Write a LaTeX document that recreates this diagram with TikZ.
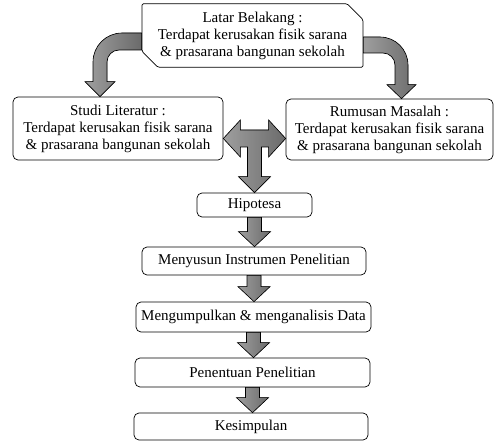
\documentclass[tikz,border=0pt]{standalone}
\usepackage{fontspec}
\setmainfont{Liberation Serif}
\usetikzlibrary{calc,shapes.misc}

\newcommand{\blockdown}[2]{%
  \filldraw[blockarrow] let \p1=(#1.south), \p2=(#2.north) in
    (\x1-7pt,\y1) -- (\x1+7pt,\y1) -- (\x1+7pt,\y2+15pt) -- (\x1+16pt,\y2+15pt)
    -- (\x1,\y2) -- (\x1-16pt,\y2+15pt) -- (\x1-7pt,\y2+15pt) -- cycle;}

\begin{document}
\begin{tikzpicture}[x=1pt,y=1pt,font=\fontsize{15}{17}\selectfont,
  kotak/.style={draw,rounded corners=5pt,line width=0.7pt,fill=white,align=center,inner sep=0pt},
  blockarrow/.style={draw,line width=0.6pt,left color=black!38,right color=black!58}]
  \useasboundingbox (0,0) rectangle (496,-441);

  \node[kotak,shape=chamfered rectangle,rounded corners=1.5pt,
        chamfered rectangle corners={north east,south west},
        chamfered rectangle xsep=8pt,chamfered rectangle ysep=8pt,
        minimum width=221pt,minimum height=59pt] (latar) at (252.5,-35.5)
        {Latar Belakang :\\Terdapat kerusakan fisik sarana\\\& prasarana bangunan sekolah};
  \node[kotak,minimum width=210pt,minimum height=63pt] (studi) at (118,-128.5)
        {Studi Literatur :\\Terdapat kerusakan fisik sarana\\\& prasarana bangunan sekolah};
  \node[kotak,minimum width=207pt,minimum height=61pt] (rumusan) at (389.5,-129.5)
        {Rumusan Masalah :\\Terdapat kerusakan fisik sarana\\\& prasarana bangunan sekolah};

  \node[kotak,minimum width=115pt,minimum height=24pt] (hip) at (254.5,-205) {Hipotesa};
  \node[kotak,minimum width=224pt,minimum height=28pt] (men) at (254,-261) {Menyusun Instrumen Penelitian};
  \node[kotak,minimum width=235pt,minimum height=30pt] (kum) at (253.5,-317) {Mengumpulkan \& menganalisis Data};
  \node[kotak,minimum width=235pt,minimum height=29pt] (pen) at (252.5,-372.5) {Penentuan Penelitian};
  \node[kotak,minimum width=234pt,minimum height=27pt] (kes) at (251,-426.5) {Kesimpulan};

  \filldraw[blockarrow] let \p1=(latar.west), \p2=([xshift=-18pt]studi.north) in
    (\x1,\y1+2.5pt) -- (\x2+22pt,\y1+2.5pt) arc[start angle=90,end angle=180,radius=29pt]
    -- (\x2-7pt,\y2+15pt) -- (\x2-15pt,\y2+15pt) -- (\x2,\y2) -- (\x2+15pt,\y2+15pt)
    -- (\x2+7pt,\y2+15pt) -- (\x2+7pt,\y1-26.5pt) arc[start angle=180,end angle=90,radius=12pt]
    -- (\x1,\y1-14.5pt) -- cycle;
  \filldraw[blockarrow] let \p1=(latar.east), \p2=([xshift=12pt]rumusan.north) in
    (\x1,\y1-1.5pt) -- (\x2-21.5pt,\y1-1.5pt) arc[start angle=90,end angle=0,radius=28pt]
    -- (\x2+6.5pt,\y2+14pt) -- (\x2+14.5pt,\y2+14pt) -- (\x2,\y2) -- (\x2-14.5pt,\y2+14pt)
    -- (\x2-6.5pt,\y2+14pt) -- (\x2-6.5pt,\y1-29.5pt) arc[start angle=0,end angle=90,radius=12pt]
    -- (\x1,\y1-17.5pt) -- cycle;

  \filldraw[blockarrow] let \p1=(studi.east), \p2=(rumusan.west), \p3=(hip.north),
      \p4=([yshift=-10pt]studi.east) in
    (\x1,\y4) -- (\x1+17pt,\y4+18.5pt) -- (\x1+17pt,\y4+8.5pt) -- (\x2-17pt,\y4+8.5pt)
    -- (\x2-17pt,\y4+18.5pt) -- (\x2,\y4) -- (\x2-17pt,\y4-18.5pt) -- (\x2-17pt,\y4-8.5pt)
    -- (\x3+7pt,\y4-8.5pt) -- (\x3+7pt,\y3+16pt) -- (\x3+16pt,\y3+16pt) -- (\x3,\y3)
    -- (\x3-16pt,\y3+16pt) -- (\x3-7pt,\y3+16pt) -- (\x3-7pt,\y4-8.5pt)
    -- (\x1+17pt,\y4-8.5pt) -- (\x1+17pt,\y4-18.5pt) -- cycle;

  \foreach \a/\b in {hip/men, men/kum, kum/pen, pen/kes} {
    \blockdown{\a}{\b}
  }
\end{tikzpicture}
\end{document}
